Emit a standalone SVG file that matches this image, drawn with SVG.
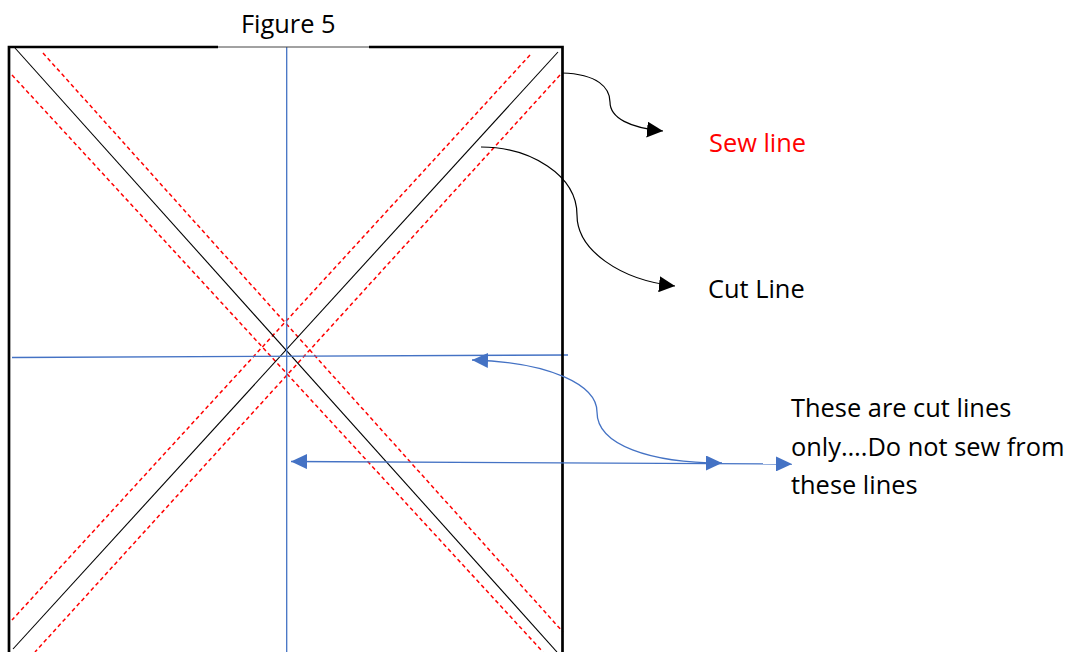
<svg xmlns="http://www.w3.org/2000/svg" width="1072" height="652" viewBox="0 0 1072 652">
<style>
  .txt { font-family: "Open Sans", "Liberation Sans", sans-serif; font-size: 25.4px; fill: #000; }
  .red { fill: #ff0000; }
  .frame { fill: none; stroke: #000; stroke-width: 2.7; }
  .cut { stroke: #000; stroke-width: 1.1; fill: none; }
  .sew { stroke: #ff0000; stroke-width: 1.5; stroke-dasharray: 4 3; fill: none; }
  .blue { stroke: #4472C4; stroke-width: 1.3; fill: none; }
  .conn { stroke: #000; stroke-width: 1.2; fill: none; }
</style>
<defs>
  <marker id="ah-black" markerUnits="userSpaceOnUse" markerWidth="16" markerHeight="16" viewBox="0 0 16 16" refX="16" refY="8" orient="auto-start-reverse">
    <path d="M0,0 L16,8 L0,16 Z" fill="#000"/>
  </marker>
  <marker id="ah-blue" markerUnits="userSpaceOnUse" markerWidth="16" markerHeight="15" viewBox="0 0 16 15" refX="16" refY="7.5" orient="auto-start-reverse">
    <path d="M0,0 L16,7.5 L0,15 Z" fill="#4472C4"/>
  </marker>
</defs>
<rect width="1072" height="652" fill="#fff"/>

<g id="frame">
  <line class="sew" x1="43" y1="53" x2="563" y2="632"/>
  <line class="sew" x1="12" y1="75" x2="543" y2="652"/>
  <line class="sew" x1="530" y1="55" x2="12" y2="620"/>
  <line class="sew" x1="560" y1="75" x2="35" y2="652"/>
  <line class="cut" x1="15" y1="48" x2="557" y2="652"/>
  <line class="cut" x1="558" y1="52" x2="13" y2="649"/>
  <line class="blue" x1="286.7" y1="47" x2="286.7" y2="652"/>
  <line class="blue" x1="12" y1="357.5" x2="568" y2="355"/>
  <path class="frame" d="M218,47 H9 V665 M369,47 H562.5 V665"/>
  <line x1="218" y1="47" x2="369" y2="47" stroke="#444" stroke-width="1"/>
</g>

<g id="title">
  <text class="txt" x="241" y="33">Figure 5</text>
</g>

<g id="label-sew">
  <text class="txt red" x="709" y="152">Sew line</text>
</g>

<g id="label-cut">
  <text class="txt" x="708" y="298">Cut Line</text>
</g>

<g id="label-note">
  <text class="txt" x="791" y="417">These are cut lines</text>
  <text class="txt" x="791" y="455.5">only….Do not sew from</text>
  <text class="txt" x="791" y="494">these lines</text>
</g>

<g id="connectors">
  <path class="conn" d="M562,73 C598,74 610,88 610,102 C610,118 630,128 663,131" marker-end="url(#ah-black)"/>
  <path class="conn" d="M481,147 C530,147 577,175 577,215 C577,250 620,280 675,286" marker-end="url(#ah-black)"/>
  <path class="blue" d="M472,360 C550,362 597,385 597,412 C597,445 650,463 722,463" marker-start="url(#ah-blue)" marker-end="url(#ah-blue)"/>
  <line class="blue" x1="291" y1="461.5" x2="792" y2="464" marker-start="url(#ah-blue)" marker-end="url(#ah-blue)"/>
</g>
</svg>
